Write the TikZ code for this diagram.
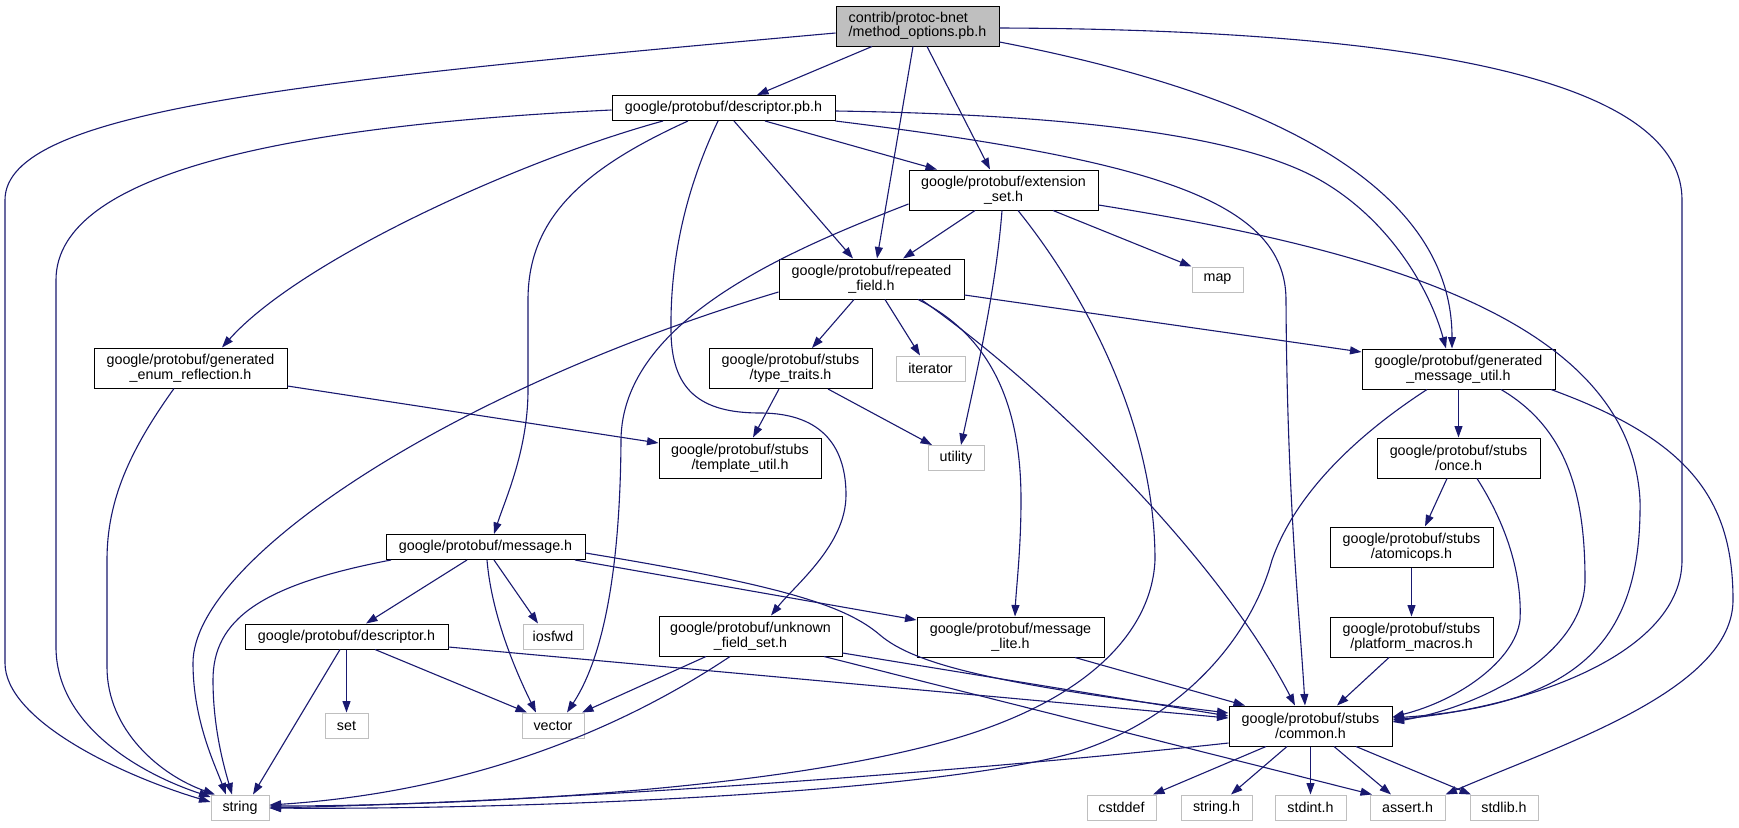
\documentclass[tikz,border=0pt]{standalone}
\usepackage{fontspec}
\setmainfont{Liberation Sans}
\usetikzlibrary{arrows.meta}
\definecolor{edgec}{HTML}{191970}
\definecolor{sysc}{HTML}{BFBFBF}
\definecolor{mainc}{HTML}{BFBFBF}
\tikzset{
  hdr/.style={draw=black, line width=1pt, fill=white, inner sep=0pt, align=center,
    font=\fontsize{14.3}{14.6}\selectfont},
  sys/.style={hdr, draw=sysc, minimum height=25pt},
  one/.style={minimum height=25pt},
  two/.style={minimum height=40pt},
  edge/.style={draw=edgec, line width=1.1pt, -{Triangle[length=11.5pt,width=8pt]}},
}
\begin{document}
\begin{tikzpicture}[x=1pt,y=-1pt]
\fill[white] (0,0) rectangle (1739,827);
\useasboundingbox (0,0) rectangle (1739,827);

% nodes
\node[hdr, two, minimum width=163pt, fill=mainc, align=left] (main) at (917.5,26) {contrib/protoc-bnet\\/method\_options.pb.h};
\node[hdr, one, minimum width=223pt] (descpb) at (723.5,108) {google/protobuf/descriptor.pb.h};
\node[hdr, two, minimum width=189pt] (ext) at (1003.5,190) {google/protobuf/extension\\\_set.h};
\node[hdr, two, minimum width=185pt] (repeated) at (871.5,279) {google/protobuf/repeated\\\_field.h};
\node[sys, minimum width=51pt] (map) at (1217.5,279.5) {map};
\node[hdr, two, minimum width=193pt] (enum) at (190.5,368) {google/protobuf/generated\\\_enum\_reflection.h};
\node[hdr, two, minimum width=163pt] (traits) at (790.5,368.5) {google/protobuf/stubs\\/type\_traits.h};
\node[sys, minimum width=69pt] (iterator) at (930.5,368.5) {iterator};
\node[hdr, two, minimum width=193pt] (gmu) at (1458.5,369) {google/protobuf/generated\\\_message\_util.h};
\node[hdr, two, minimum width=162pt] (template) at (740,458) {google/protobuf/stubs\\/template\_util.h};
\node[sys, minimum width=56pt] (utility) at (956,458) {utility};
\node[hdr, two, minimum width=163pt] (once) at (1458.5,458) {google/protobuf/stubs\\/once.h};
\node[hdr, one, minimum width=199pt] (message) at (485.5,547) {google/protobuf/message.h};
\node[hdr, two, minimum width=163pt] (atomic) at (1411.5,547) {google/protobuf/stubs\\/atomicops.h};
\node[hdr, one, minimum width=203pt] (desch) at (346.5,636.5) {google/protobuf/descriptor.h};
\node[sys, minimum width=60pt] (iosfwd) at (553,636.5) {iosfwd};
\node[hdr, two, minimum width=183pt] (unknown) at (750.5,636) {google/protobuf/unknown\\\_field\_set.h};
\node[hdr, two, minimum width=187pt] (lite) at (1010.5,637) {google/protobuf/message\\\_lite.h};
\node[hdr, two, minimum width=163pt] (platform) at (1411.5,637) {google/protobuf/stubs\\/platform\_macros.h};
\node[sys, minimum width=43pt] (set) at (346.5,725.5) {set};
\node[sys, minimum width=62pt] (vector) at (553,725.5) {vector};
\node[hdr, two, minimum width=163pt] (common) at (1310.5,726) {google/protobuf/stubs\\/common.h};
\node[sys, minimum width=58pt] (string) at (240,807.5) {string};
\node[sys, minimum width=69pt] (cstddef) at (1121.5,807.5) {cstddef};
\node[sys, minimum width=71pt] (stringh) at (1216.5,807.5) {string.h};
\node[sys, minimum width=71pt] (stdint) at (1310.5,807.5) {stdint.h};
\node[sys, minimum width=75pt] (assert) at (1407.5,807.5) {assert.h};
\node[sys, minimum width=68pt] (stdlib) at (1504,807.5) {stdlib.h};

% edges from main
\draw[edge] (main.west |- 0,33) .. controls (300,81) and (5,110) .. (5,200) -- (5,663) .. controls (5,720) and (120,775) .. (string.west |- 0,802);
\draw[edge] (main.south -| 872,0) -- (descpb.north -| 757,0);
\draw[edge] (main.south -| 913,0) -- (repeated.north -| 877,0);
\draw[edge] (main.south -| 927,0) -- (ext.north -| 990,0);
\draw[edge] (main.east |- 0,42) .. controls (1300,100) and (1452,200) .. (gmu.north -| 1452,0);
\draw[edge] (main.east |- 0,28) .. controls (1500,30) and (1682,100) .. (1682,200) -- (1682,560) .. controls (1682,650) and (1540,705) .. (common.east |- 0,720);

% edges from descriptor.pb.h
\draw[edge] (descpb.west |- 0,110) .. controls (300,125) and (56,170) .. (56,280) -- (56,647) .. controls (56,720) and (130,770) .. (string.west |- 0,797);
\draw[edge] (descpb.south -| 663,0) .. controls (520,160) and (300,260) .. (enum.north -| 222,0);
\draw[edge] (descpb.south -| 688,0) .. controls (580,170) and (528,220) .. (528,300) -- (528,390) .. controls (528,450) and (505,500) .. (message.north -| 494,0);
\draw[edge] (descpb.south -| 718,0) .. controls (690,180) and (670,250) .. (671,330) .. controls (671,390) and (700,413) .. (760,413) .. controls (825,413) and (846,450) .. (846,495) .. controls (846,545) and (795,585) .. (unknown.north -| 771,0);
\draw[edge] (descpb.south -| 734,0) -- (repeated.north -| 853,0);
\draw[edge] (descpb.south -| 765,0) -- (ext.north -| 937,0);
\draw[edge] (descpb.east |- 0,111) .. controls (1100,115) and (1250,140) .. (1320,180) .. controls (1390,220) and (1430,290) .. (gmu.north -| 1446,0);
\draw[edge] (descpb.east |- 0,121) .. controls (1150,160) and (1286,200) .. (1286,300) .. controls (1287,500) and (1300,620) .. (common.north -| 1305,0);

% edges from extension_set.h
\draw[edge] (ext.south -| 975,0) -- (repeated.north -| 903,0);
\draw[edge] (ext.west |- 0,204) .. controls (790,250) and (622,320) .. (621,440) .. controls (620,600) and (595,670) .. (vector.north -| 567,0);
\draw[edge] (ext.south -| 1018,0) .. controls (1090,300) and (1155,430) .. (1155,560) .. controls (1152,630) and (1090,700) .. (950,740) .. controls (750,797) and (400,806) .. (string.east |- 0,806);
\draw[edge] (ext.south -| 1002,0) .. controls (996,290) and (975,380) .. (utility.north -| 961,0);
\draw[edge] (ext.south -| 1053,0) -- (map.north west);
\draw[edge] (ext.east |- 0,205) .. controls (1380,250) and (1630,320) .. (1640,500) .. controls (1642,640) and (1580,705) .. (common.east |- 0,718);

% edges from repeated_field.h
\draw[edge] (repeated.west |- 0,292) .. controls (450,390) and (193,560) .. (193,663) .. controls (193,720) and (215,765) .. (string.north -| 226,0);
\draw[edge] (repeated.south -| 854,0) -- (traits.north -| 812,0);
\draw[edge] (repeated.south -| 885,0) -- (iterator.north -| 920,0);
\draw[edge] (repeated.south -| 918,0) .. controls (1000,340) and (1021,420) .. (1021,500) .. controls (1021,550) and (1016,590) .. (lite.north -| 1015,0);
\draw[edge] (repeated.south -| 921,0) .. controls (1050,390) and (1220,560) .. (common.north -| 1295,0);
\draw[edge] (repeated.east |- 0,295) -- (gmu.west |- 0,352);

% type_traits, enum
\draw[edge] (traits.south -| 779,0) -- (template.north -| 753,0);
\draw[edge] (traits.south -| 828,0) -- (utility.north -| 932,0);
\draw[edge] (enum.south -| 174,0) .. controls (130,450) and (107,500) .. (107,560) -- (107,667) .. controls (107,730) and (160,775) .. (string.north -| 215,0);
\draw[edge] (enum.east |- 0,386) -- (template.west |- 0,443);

% generated_message_util.h
\draw[edge] (gmu.south -| 1427,0) .. controls (1380,420) and (1300,480) .. (1272,560) .. controls (1250,640) and (1180,720) .. (1073,753) .. controls (920,795) and (500,810) .. (string.east |- 0,808);
\draw[edge] (gmu.south) -- (once.north);
\draw[edge] (gmu.south -| 1501,0) .. controls (1570,430) and (1585,500) .. (1585,580) .. controls (1585,650) and (1490,705) .. (common.east |- 0,722);
\draw[edge] (gmu.south -| 1551,0) .. controls (1690,440) and (1733,500) .. (1733,600) .. controls (1733,690) and (1560,745) .. (assert.north east);

% once, atomicops, platform
\draw[edge] (once.south -| 1447,0) -- (atomic.north -| 1425,0);
\draw[edge] (once.south -| 1477,0) .. controls (1510,530) and (1522,580) .. (1520,620) .. controls (1515,660) and (1460,700) .. (common.east |- 0,717);
\draw[edge] (atomic.south) -- (platform.north);
\draw[edge] (platform.south -| 1389,0) -- (common.north -| 1337,0);

% message.h
\draw[edge] (message.south -| 391,0) .. controls (260,585) and (213,620) .. (213,680) .. controls (213,730) and (225,770) .. (string.north -| 232,0);
\draw[edge] (message.south -| 467,0) -- (desch.north -| 366,0);
\draw[edge] (message.south -| 494,0) -- (iosfwd.north -| 538,0);
\draw[edge] (message.south -| 487,0) .. controls (492,620) and (520,680) .. (vector.north -| 536,0);
\draw[edge] (message.south -| 575,0) -- (lite.west |- 0,620);
\draw[edge] (message.east |- 0,553) .. controls (780,585) and (845,605) .. (880,635) .. controls (915,665) and (1000,685) .. (common.west |- 0,713);

% descriptor.h
\draw[edge] (desch.south -| 340,0) -- (string.north -| 253,0);
\draw[edge] (desch.south) -- (set.north);
\draw[edge] (desch.south -| 375,0) -- (vector.north -| 527,0);
\draw[edge] (desch.east |- 0,647) -- (common.west |- 0,718);

% unknown_field_set.h
\draw[edge] (unknown.south -| 706,0) -- (vector.north -| 582,0);
\draw[edge] (unknown.south -| 730,0) .. controls (650,710) and (500,790) .. (string.east |- 0,805);
\draw[edge] (unknown.east |- 0,653) -- (common.west |- 0,716);
\draw[edge] (unknown.south -| 824,0) -- (assert.north -| 1372,0);

% message_lite.h
\draw[edge] (lite.south -| 1075,0) -- (common.north -| 1245,0);

% common.h
\draw[edge] (common.west |- 0,743) .. controls (1000,768) and (600,800) .. (string.east |- 0,808);
\draw[edge] (common.south -| 1266,0) -- (cstddef.north -| 1153,0);
\draw[edge] (common.south -| 1287,0) -- (stringh.north -| 1231,0);
\draw[edge] (common.south) -- (stdint.north);
\draw[edge] (common.south -| 1334,0) -- (assert.north -| 1391,0);
\draw[edge] (common.south -| 1356,0) -- (stdlib.north -| 1471,0);
\end{tikzpicture}
\end{document}
